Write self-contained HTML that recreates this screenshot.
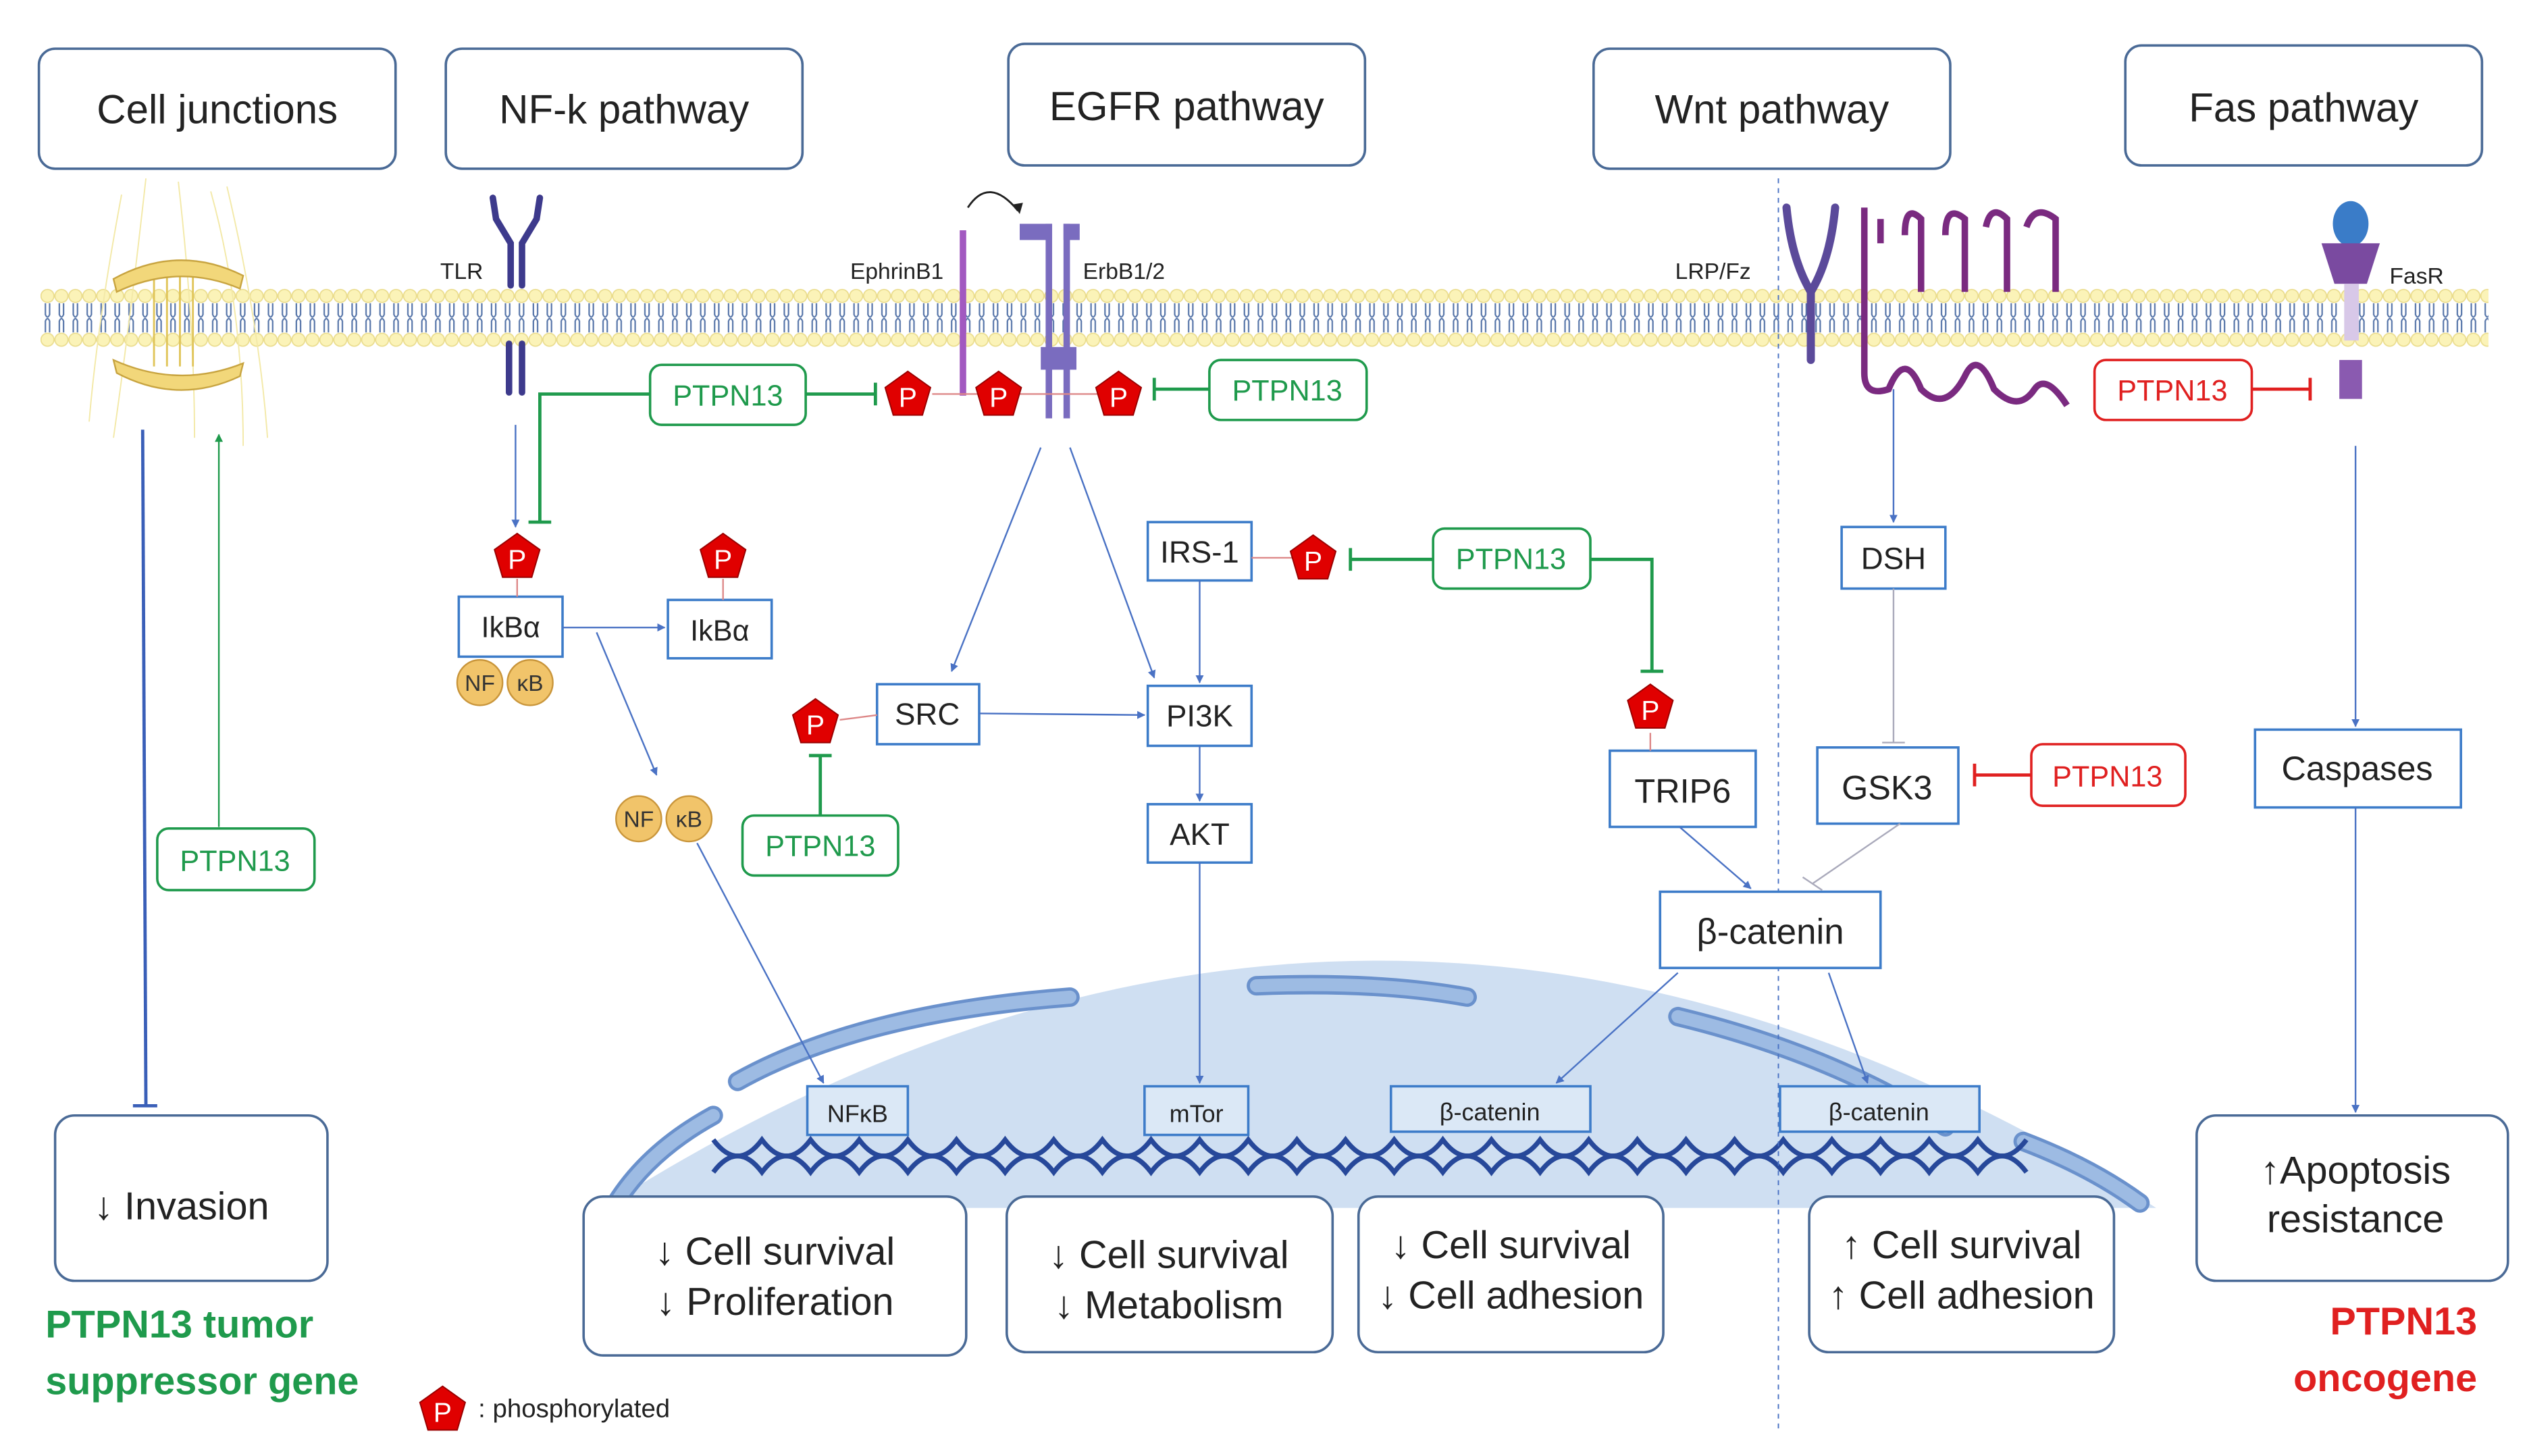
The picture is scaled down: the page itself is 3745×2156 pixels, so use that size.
<!DOCTYPE html>
<html><head><meta charset="utf-8"><style>
html,body{margin:0;padding:0;background:#fff}
svg{display:block}
text{font-family:"Liberation Sans",sans-serif}
</style></head><body>
<svg width="3745" height="2156" viewBox="0 0 1560 898" xmlns="http://www.w3.org/2000/svg">
<defs>
<marker id="ab" viewBox="0 0 10 10" refX="9" refY="5" markerWidth="5" markerHeight="5" orient="auto"><path d="M0,0L10,5L0,10z" fill="#4a72c4"/></marker>
<marker id="ag" viewBox="0 0 10 10" refX="9" refY="5" markerWidth="5" markerHeight="5" orient="auto"><path d="M0,0L10,5L0,10z" fill="#1f9a4c"/></marker>
<pattern id="mem" x="25" y="178" width="8.6" height="36" patternUnits="userSpaceOnUse">
<circle cx="4.3" cy="4.5" r="4" fill="#fbf3b8" stroke="#eadc8c" stroke-width="0.7"/>
<circle cx="4.3" cy="31.5" r="4" fill="#fbf3b8" stroke="#eadc8c" stroke-width="0.7"/>
<path d="M3,9 V16 Q4.3,19 5.6,16 V9 M3,27 V20 Q4.3,17 5.6,20 V27" fill="none" stroke="#5574a8" stroke-width="0.9"/>
</pattern>
</defs>

<!-- nucleus -->
<path d="M372,745 Q850,440 1330,745 Z" fill="#cfdff2"/>
<g fill="none" stroke="#6a91cc" stroke-width="12" stroke-linecap="round">
<path d="M380,742 Q400,710 440,688"/>
<path d="M455,667 Q530,625 660,615"/>
<path d="M775,608 Q850,605 905,615"/>
<path d="M1035,627 Q1130,650 1200,695"/>
<path d="M1248,704 Q1290,720 1320,742"/>
</g>
<g fill="none" stroke="#9dbbe3" stroke-width="8" stroke-linecap="round">
<path d="M380,742 Q400,710 440,688"/>
<path d="M455,667 Q530,625 660,615"/>
<path d="M775,608 Q850,605 905,615"/>
<path d="M1035,627 Q1130,650 1200,695"/>
<path d="M1248,704 Q1290,720 1320,742"/>
</g>
<!-- DNA -->
<g fill="none" stroke="#27489a" stroke-width="3">
<path d="M440,703 q15,20 30,0 q15,20 30,0 q15,20 30,0 q15,20 30,0 q15,20 30,0 q15,20 30,0 q15,20 30,0 q15,20 30,0 q15,20 30,0 q15,20 30,0 q15,20 30,0 q15,20 30,0 q15,20 30,0 q15,20 30,0 q15,20 30,0 q15,20 30,0 q15,20 30,0 q15,20 30,0 q15,20 30,0 q15,20 30,0 q15,20 30,0 q15,20 30,0 q15,20 30,0 q15,20 30,0 q15,20 30,0 q15,20 30,0 q15,20 30,0"/>
<path d="M440,723 q15,-20 30,0 q15,-20 30,0 q15,-20 30,0 q15,-20 30,0 q15,-20 30,0 q15,-20 30,0 q15,-20 30,0 q15,-20 30,0 q15,-20 30,0 q15,-20 30,0 q15,-20 30,0 q15,-20 30,0 q15,-20 30,0 q15,-20 30,0 q15,-20 30,0 q15,-20 30,0 q15,-20 30,0 q15,-20 30,0 q15,-20 30,0 q15,-20 30,0 q15,-20 30,0 q15,-20 30,0 q15,-20 30,0 q15,-20 30,0 q15,-20 30,0 q15,-20 30,0 q15,-20 30,0"/>
</g>

<!-- membrane -->
<rect x="25" y="178" width="1510" height="36" fill="url(#mem)"/>

<line x1="1097" y1="110" x2="1097" y2="882" stroke="#4a72c4" stroke-width="0.8" stroke-dasharray="3,3"/>

<!-- cell junction -->
<g stroke="#f3e9a8" stroke-width="0.8" fill="none">
<path d="M90,110 Q80,200 70,270 M110,112 Q120,200 120,270 M140,115 Q160,200 165,270 M75,120 Q60,200 55,260 M130,118 Q150,190 150,275"/>
</g>
<g stroke="#e0c55a" stroke-width="1.2"><line x1="95" y1="168" x2="95" y2="226"/><line x1="103" y1="168" x2="103" y2="226"/><line x1="111" y1="168" x2="111" y2="226"/><line x1="119" y1="168" x2="119" y2="226"/></g>
<path d="M70,172 Q110,150 150,170 L148,178 Q110,162 72,180Z" fill="#f2d77a" stroke="#c8a440" stroke-width="1"/>
<path d="M70,222 Q110,240 150,224 L148,232 Q110,250 72,230Z" fill="#f2d77a" stroke="#c8a440" stroke-width="1"/>

<!-- TLR -->
<g stroke="#3d3a8c" stroke-width="4" fill="none" stroke-linecap="round">
<path d="M304,122 L306,135 L315,150 L315,176"/><path d="M333,122 L331,135 L322,150 L322,176"/>
<line x1="314" y1="212" x2="314" y2="242"/><line x1="322" y1="212" x2="322" y2="242"/>
</g>
<line x1="594" y1="142" x2="594" y2="244" stroke="#a259c0" stroke-width="4"/>
<path d="M597,128 Q610,108 628,130" fill="none" stroke="#222" stroke-width="1.2"/>
<path d="M625,126 l4,6 l2,-7z" fill="#222"/>
<g fill="#7a6cbf"><rect x="629" y="138" width="20" height="10"/><rect x="656" y="138" width="10" height="10"/><rect x="645" y="138" width="4" height="120"/><rect x="656" y="138" width="4" height="120"/><rect x="642" y="214" width="22" height="14"/></g>
<g stroke="#5b4a9a" stroke-width="5" fill="none" stroke-linecap="round"><path d="M1102,128 Q1105,160 1117,180 Q1129,160 1132,128"/><line x1="1117" y1="180" x2="1117" y2="222"/></g>
<path d="M1150,128 V230 Q1150,245 1165,240 Q1175,215 1185,240 Q1200,255 1212,232 Q1220,215 1230,240 Q1245,255 1255,240 Q1262,230 1275,250 M1160,150 V135 M1175,145 Q1175,125 1185,135 V180 M1200,145 Q1200,125 1212,135 V180 M1225,140 Q1228,125 1238,135 V180 M1250,140 Q1255,125 1268,135 V180" fill="none" stroke="#7a2a80" stroke-width="4"/>
<ellipse cx="1450" cy="138" rx="11" ry="14" fill="#3a7cc8"/>
<path d="M1432,150 L1468,150 L1460,175 L1440,175Z" fill="#7a4aa0"/>
<rect x="1446" y="175" width="9" height="35" fill="#d8c8e8"/>
<rect x="1443" y="222" width="14" height="24" fill="#8a5ab0"/>

<g font-size="14" fill="#222">
<text x="298" y="172" text-anchor="end">TLR</text>
<text x="582" y="172" text-anchor="end">EphrinB1</text>
<text x="668" y="172">ErbB1/2</text>
<text x="1080" y="172" text-anchor="end">LRP/Fz</text>
<text x="1474" y="175">FasR</text>
</g>

<g fill="#fff" stroke="#4a6a96" stroke-width="1.5">
<rect x="24" y="30" width="220" height="74" rx="10"/>
<rect x="275" y="30" width="220" height="74" rx="10"/>
<rect x="622" y="27" width="220" height="75" rx="10"/>
<rect x="983" y="30" width="220" height="74" rx="10"/>
<rect x="1311" y="28" width="220" height="74" rx="10"/>
<rect x="34" y="688" width="168" height="102" rx="12"/>
<rect x="1355" y="688" width="192" height="102" rx="12"/>
<rect x="360" y="738" width="236" height="98" rx="12"/>
<rect x="621" y="738" width="201" height="96" rx="12"/>
<rect x="838" y="738" width="188" height="96" rx="12"/>
<rect x="1116" y="738" width="188" height="96" rx="12"/>
</g>
<g font-size="25" fill="#222" text-anchor="middle">
<text x="134" y="76">Cell junctions</text>
<text x="385" y="76">NF-k pathway</text>
<text x="732" y="74">EGFR pathway</text>
<text x="1093" y="76">Wnt pathway</text>
<text x="1421" y="75">Fas pathway</text>
</g>
<g font-size="24" fill="#222" text-anchor="middle">
<text x="112" y="752">↓ Invasion</text>
<text x="1453" y="730">↑Apoptosis</text>
<text x="1453" y="760">resistance</text>
<text x="478" y="780">↓ Cell survival</text>
<text x="478" y="811">↓ Proliferation</text>
<text x="721" y="782">↓ Cell survival</text>
<text x="721" y="813">↓ Metabolism</text>
<text x="932" y="776">↓ Cell survival</text>
<text x="932" y="807">↓ Cell adhesion</text>
<text x="1210" y="776">↑ Cell survival</text>
<text x="1210" y="807">↑ Cell adhesion</text>
</g>

<g fill="#fff" stroke="#3d7cc9" stroke-width="1.5">
<rect x="283" y="368" width="64" height="37"/><rect x="412" y="370" width="64" height="36"/>
<rect x="541" y="422" width="63" height="37"/><rect x="708" y="423" width="64" height="37"/>
<rect x="708" y="496" width="64" height="36"/><rect x="708" y="322" width="64" height="36"/>
<rect x="993" y="463" width="90" height="47"/><rect x="1121" y="461" width="87" height="47"/>
<rect x="1136" y="325" width="64" height="38"/><rect x="1391" y="450" width="127" height="48"/>
<rect x="1024" y="550" width="136" height="47"/>
</g>
<g fill="#dbe8f6" stroke="#3d7cc9" stroke-width="1.5">
<rect x="498" y="670" width="62" height="30"/><rect x="706" y="670" width="64" height="30"/>
<rect x="858" y="670" width="123" height="28"/><rect x="1098" y="670" width="123" height="28"/>
</g>
<g font-size="19" fill="#222" text-anchor="middle">
<text x="315" y="393" font-family="Liberation Serif" font-size="18">IkBα</text>
<text x="444" y="395" font-family="Liberation Serif" font-size="18">IkBα</text>
<text x="572" y="447">SRC</text><text x="740" y="448">PI3K</text>
<text x="740" y="521">AKT</text><text x="740" y="347">IRS-1</text>
<text x="1038" y="495" font-size="21">TRIP6</text><text x="1164" y="493" font-size="21">GSK3</text>
<text x="1168" y="351">DSH</text><text x="1454" y="481" font-size="21">Caspases</text>
<text x="1092" y="582" font-size="22">β-catenin</text>
<text x="529" y="692" font-size="15">NFκB</text><text x="738" y="692" font-size="15">mTor</text>
<text x="919" y="691" font-size="15">β-catenin</text><text x="1159" y="691" font-size="15">β-catenin</text>
</g>

<g fill="#fff" stroke-width="1.5">
<g stroke="#1f9a4c"><rect x="401" y="225" width="96" height="37" rx="7"/><rect x="746" y="222" width="97" height="37" rx="7"/><rect x="884" y="326" width="97" height="37" rx="7"/><rect x="458" y="503" width="96" height="37" rx="7"/><rect x="97" y="511" width="97" height="38" rx="7"/></g>
<g stroke="#e02020"><rect x="1292" y="222" width="97" height="37" rx="7"/><rect x="1253" y="459" width="95" height="38" rx="7"/></g>
</g>
<g font-size="18" text-anchor="middle">
<g fill="#1f9a4c"><text x="449" y="250">PTPN13</text><text x="794" y="247">PTPN13</text><text x="932" y="351">PTPN13</text><text x="506" y="528">PTPN13</text><text x="145" y="537">PTPN13</text></g>
<g fill="#e02020"><text x="1340" y="247">PTPN13</text><text x="1300" y="485">PTPN13</text></g>
</g>

<g stroke="#4a72c4" stroke-width="1" fill="none" marker-end="url(#ab)">
<line x1="318" y1="262" x2="318" y2="325"/>
<line x1="347" y1="387" x2="410" y2="387"/>
<line x1="368" y1="390" x2="405" y2="478"/>
<line x1="430" y1="520" x2="508" y2="668"/>
<line x1="642" y1="276" x2="587" y2="414"/>
<line x1="660" y1="276" x2="712" y2="418"/>
<line x1="604" y1="440" x2="706" y2="441"/>
<line x1="740" y1="358" x2="740" y2="421"/>
<line x1="740" y1="460" x2="740" y2="494"/>
<line x1="740" y1="532" x2="740" y2="668"/>
<line x1="1036" y1="510" x2="1080" y2="548"/>
<line x1="1168" y1="240" x2="1168" y2="322"/>
<line x1="1035" y1="600" x2="960" y2="668"/>
<line x1="1128" y1="600" x2="1152" y2="668"/>
<line x1="1453" y1="275" x2="1453" y2="448"/>
<line x1="1453" y1="498" x2="1453" y2="686"/>
</g>
<g stroke="#3a5fb8" stroke-width="2"><line x1="88" y1="265" x2="90" y2="682"/><line x1="82" y1="682" x2="97" y2="682"/></g>
<line x1="135" y1="510" x2="135" y2="268" stroke="#1f9a4c" stroke-width="1" marker-end="url(#ag)"/>
<g stroke="#aab" stroke-width="1"><line x1="1168" y1="363" x2="1168" y2="458"/><line x1="1161" y1="458" x2="1175" y2="458"/>
<line x1="1172" y1="508" x2="1118" y2="545"/><line x1="1112" y1="541" x2="1124" y2="549"/></g>

<g stroke="#1f9a4c" stroke-width="2" fill="none">
<path d="M401,243 H333 V322"/><line x1="326" y1="322" x2="340" y2="322"/>
<line x1="497" y1="243" x2="540" y2="243"/><line x1="540" y1="236" x2="540" y2="250"/>
<line x1="746" y1="240" x2="712" y2="240"/><line x1="712" y1="233" x2="712" y2="247"/>
<line x1="884" y1="345" x2="833" y2="345"/><line x1="833" y1="338" x2="833" y2="352"/>
<path d="M981,345 H1019 V414"/><line x1="1012" y1="414" x2="1026" y2="414"/>
<line x1="506" y1="503" x2="506" y2="466"/><line x1="499" y1="466" x2="513" y2="466"/>
</g>
<g stroke="#e02020" stroke-width="2">
<line x1="1389" y1="240" x2="1425" y2="240"/><line x1="1425" y1="233" x2="1425" y2="247"/>
<line x1="1253" y1="478" x2="1218" y2="478"/><line x1="1218" y1="471" x2="1218" y2="485"/>
</g>
<g stroke="#d88" stroke-width="1"><line x1="575" y1="243" x2="680" y2="243"/><line x1="772" y1="344" x2="797" y2="344"/><line x1="518" y1="444" x2="541" y2="441"/><line x1="1018" y1="452" x2="1018" y2="463"/><line x1="319" y1="357" x2="319" y2="368"/><line x1="446" y1="357" x2="446" y2="370"/></g>

<g fill="#e00000" stroke="#900" stroke-width="0.8">
<path d="M0,-15 L14,-5 L9,12 L-9,12 L-14,-5Z" transform="translate(560,244)"/>
<path d="M0,-15 L14,-5 L9,12 L-9,12 L-14,-5Z" transform="translate(616,244)"/>
<path d="M0,-15 L14,-5 L9,12 L-9,12 L-14,-5Z" transform="translate(690,244)"/>
<path d="M0,-15 L14,-5 L9,12 L-9,12 L-14,-5Z" transform="translate(319,344)"/>
<path d="M0,-15 L14,-5 L9,12 L-9,12 L-14,-5Z" transform="translate(446,344)"/>
<path d="M0,-15 L14,-5 L9,12 L-9,12 L-14,-5Z" transform="translate(810,345)"/>
<path d="M0,-15 L14,-5 L9,12 L-9,12 L-14,-5Z" transform="translate(503,446)"/>
<path d="M0,-15 L14,-5 L9,12 L-9,12 L-14,-5Z" transform="translate(1018,437)"/>
<path d="M0,-15 L14,-5 L9,12 L-9,12 L-14,-5Z" transform="translate(273,870)"/>
</g>
<g fill="#fff" font-size="17" text-anchor="middle">
<text x="560" y="251">P</text><text x="616" y="251">P</text><text x="690" y="251">P</text><text x="319" y="351">P</text><text x="446" y="351">P</text><text x="810" y="352">P</text><text x="503" y="453">P</text><text x="1018" y="444">P</text><text x="273" y="877">P</text>
</g>
<text x="295" y="874" font-size="16" fill="#222">: phosphorylated</text>

<g fill="#f1c46a" stroke="#c9953a" stroke-width="1"><circle cx="296" cy="421" r="14"/><circle cx="327" cy="421" r="14"/><circle cx="394" cy="505" r="14"/><circle cx="425" cy="505" r="14"/></g>
<g font-size="14" fill="#333" text-anchor="middle"><text x="296" y="426">NF</text><text x="327" y="426" font-family="Liberation Serif">κB</text><text x="394" y="510">NF</text><text x="425" y="510" font-family="Liberation Serif">κB</text></g>

<g font-size="24" font-weight="bold">
<text x="28" y="825" fill="#1f9a4c">PTPN13 tumor</text>
<text x="28" y="860" fill="#1f9a4c">suppressor gene</text>
<text x="1528" y="823" fill="#e02020" text-anchor="end">PTPN13</text>
<text x="1528" y="858" fill="#e02020" text-anchor="end">oncogene</text>
</g>
</svg>
</body></html>
